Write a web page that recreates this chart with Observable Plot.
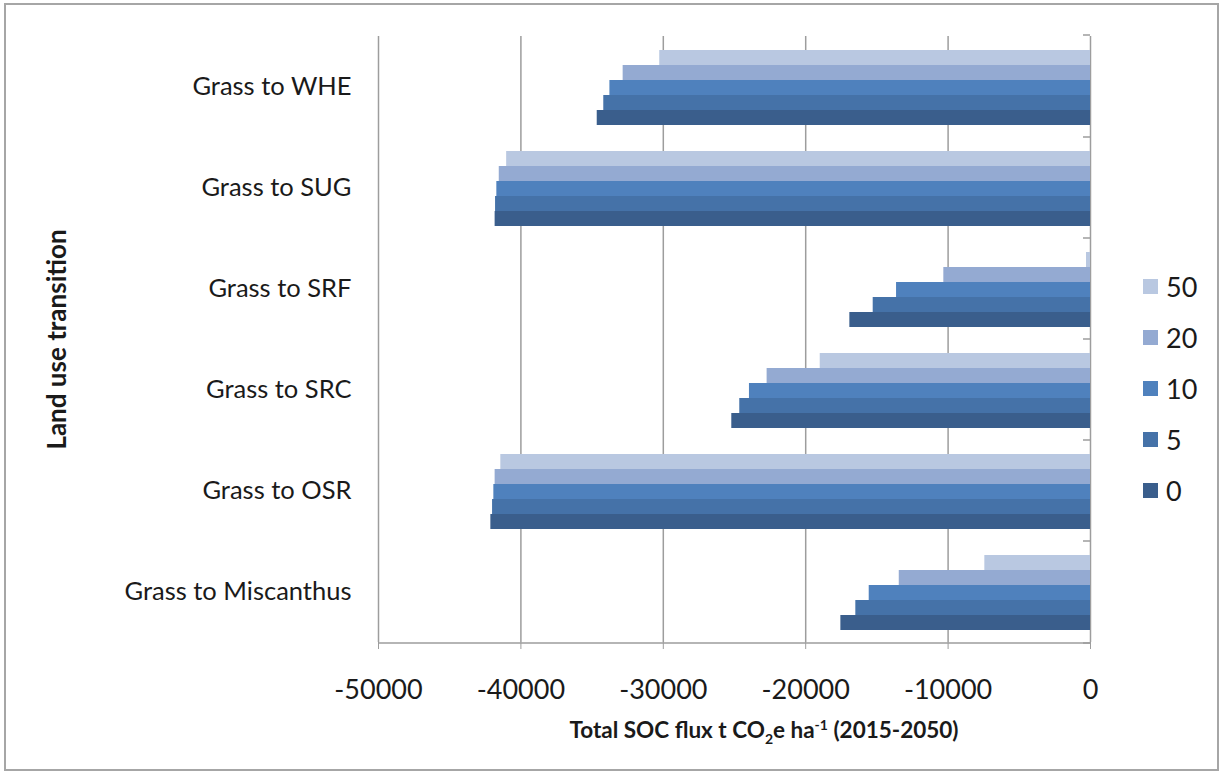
<!DOCTYPE html>
<html><head><meta charset="utf-8">
<script src="https://cdn.jsdelivr.net/npm/d3@7"></script>
<script src="https://cdn.jsdelivr.net/npm/@observablehq/plot@0.6"></script>
<style>
body{margin:0;background:#fff;font-family:Lato,"Open Sans",sans-serif;color:#1a1a1a;}
#wrap{position:relative;width:1221px;height:773px;overflow:hidden;background:#fff;}
#border{position:absolute;left:4px;top:3px;width:1211px;height:764px;border:2px solid #a6a6a6;pointer-events:none;}
#chart svg{display:block;}
#xtitle{position:absolute;left:764px;top:715px;transform:translateX(-50%);white-space:nowrap;font-weight:700;font-size:22.5px;line-height:30px;}
#xtitle sub,#xtitle sup{font-size:14px;line-height:0;}
#legend{position:absolute;left:1143px;top:261px;}
.lg{display:flex;align-items:center;height:51px;}
.sw{width:15px;height:15px;margin-right:8px;}
.lt{font-size:27px;line-height:27px;}
g[aria-label="fy-axis label"] text, g[aria-label="fy-axis label"]{font-weight:700;font-size:26px;}
</style></head><body>
<div id="wrap">
  <div id="chart"></div>
  <div id="xtitle">Total SOC flux t CO<sub>2</sub>e ha<sup>-1</sup> (2015-2050)</div>
  <div id="legend"></div>
  <div id="border"></div>
</div>
<script>
// Categories (top to bottom) and series (top to bottom within each group)
const categories = ["Grass to WHE", "Grass to SUG", "Grass to SRF", "Grass to SRC", "Grass to OSR", "Grass to Miscanthus"];
const seriesNames = ["50", "20", "10", "5", "0"];
const seriesColors = ["#b9c8e1", "#94aad2", "#4f81bd", "#4572a8", "#3a5e8c"];
// Values per series, in category order
const values50 = [-30250, -41000, -280, -18980, -41410, -7420];
const values20 = [-32820, -41520, -10300, -22710, -41810, -13430];
const values10 = [-33750, -41690, -13620, -23950, -41900, -15540];
const values5  = [-34180, -41780, -15260, -24630, -41990, -16480];
const values0  = [-34640, -41810, -16900, -25190, -42110, -17530];
const xTicks = [-50000, -40000, -30000, -20000, -10000, 0];
const yLabel = "Land use transition";

const seriesValues = [values50, values20, values10, values5, values0];
const rows = [];
categories.forEach((c, ci) => {
  seriesNames.forEach((s, si) => rows.push({category: c, series: s, value: seriesValues[si][ci]}));
});

const chart = Plot.plot({
  width: 1221,
  height: 705,
  marginTop: 35,
  marginLeft: 378,
  marginRight: 131,
  marginBottom: 62,
  style: {fontFamily: "Lato, 'Open Sans', sans-serif", background: "transparent", color: "#1a1a1a"},
  x: {domain: [-50000, 0]},
  y: {domain: seriesNames, axis: null, paddingInner: 0, paddingOuter: 0.79, align: 0.55},
  fy: {domain: categories, padding: 0, axis: null},
  color: {domain: seriesNames, range: seriesColors},
  marks: [
    Plot.ruleX(xTicks, {stroke: "#9d9d9d", strokeWidth: 1.5}),
    Plot.barX(rows, {x1: 0, x2: "value", y: "series", fy: "category", fill: "series"}),
    Plot.axisX({ticks: xTicks, tickFormat: d => String(d), tickSize: 7, tickPadding: 30, fontSize: 27, stroke: "#9d9d9d", fill: "#1a1a1a", label: null}),
    Plot.axisFy({anchor: "left", tickSize: 0, tickPadding: 27, fontSize: 25.5, fill: "#1a1a1a", label: yLabel, labelAnchor: "center", labelOffset: 331})
  ]
});
document.getElementById("chart").appendChild(chart);

// axis line and between-category tick marks, positioned from the plot's own scales
const xs = chart.scale("x"), fys = chart.scale("fy");
const svg = d3.select(chart);
const x0 = xs.apply(0), xmin = xs.apply(-50000);
const yBottom = Math.max(...fys.range);
const yTop = Math.min(...fys.range);
const g = svg.append("g").attr("stroke", "#9d9d9d").attr("stroke-width", 1.5);
g.append("line").attr("x1", xmin).attr("x2", x0).attr("y1", yBottom).attr("y2", yBottom);
[yTop, ...categories.slice(1).map(c => fys.apply(c)), yBottom].forEach(y => {
  g.append("line").attr("x1", x0 - 7).attr("x2", x0).attr("y1", y).attr("y2", y);
});

// legend
const lg = d3.select("#legend");
seriesNames.forEach((s, i) => {
  const row = lg.append("div").attr("class", "lg");
  row.append("div").attr("class", "sw").style("background", seriesColors[i]);
  row.append("span").attr("class", "lt").text(s);
});
</script>
</body></html>
